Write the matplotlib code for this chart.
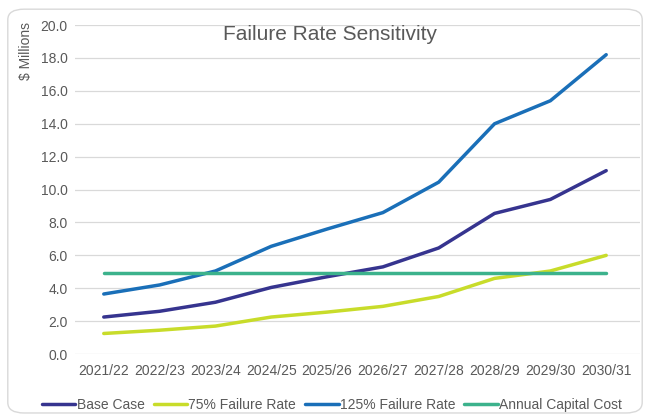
import matplotlib
matplotlib.use("Agg")
import matplotlib.pyplot as plt
from matplotlib.patches import FancyBboxPatch

years = ["2021/22", "2022/23", "2023/24", "2024/25", "2025/26", "2026/27",
         "2027/28", "2028/29", "2029/30", "2030/31"]
base_case = [2.25, 2.6, 3.15, 4.05, 4.7, 5.3, 6.45, 8.55, 9.4, 11.15]
rate_75 = [1.25, 1.45, 1.7, 2.25, 2.55, 2.9, 3.5, 4.6, 5.05, 6.0]
rate_125 = [3.65, 4.2, 5.05, 6.55, 7.6, 8.6, 10.45, 14.0, 15.4, 18.2]
capital = [4.9] * 10

plt.rcParams['font.family'] = ['Liberation Sans', 'DejaVu Sans']
fig = plt.figure(figsize=(6.5, 4.18), dpi=100)
fig.patches.append(FancyBboxPatch((0.012, 0.012), 0.976, 0.966,
                                  boxstyle="round,pad=0,rounding_size=0.025",
                                  transform=fig.transFigure, fc='white',
                                  ec='#d9d9d9', lw=1.0, zorder=-1))
ax = fig.add_axes([0.115, 0.153, 0.87, 0.787])
ax.set_facecolor('none')
x = range(len(years))
lw = 2.5
ax.plot(x, base_case, color='#36348f', lw=lw, label='Base Case', solid_capstyle='round')
ax.plot(x, rate_75, color='#c8dc2a', lw=lw, label='75% Failure Rate', solid_capstyle='round')
ax.plot(x, rate_125, color='#1a6fb8', lw=lw, label='125% Failure Rate', solid_capstyle='round')
ax.plot(x, capital, color='#3cb28c', lw=lw, label='Annual Capital Cost', solid_capstyle='round')

ax.set_ylim(0, 20)
ax.set_yticks(range(0, 21, 2))
ax.set_yticklabels([f"{v:.1f}" for v in range(0, 21, 2)])
ax.set_xlim(-0.52, 9.61)
ax.set_xticks(list(x))
ax.set_xticklabels(years)
ax.grid(axis='y', color='#d9d9d9', lw=0.9)
ax.set_axisbelow(True)
for s in ax.spines.values():
    s.set_visible(False)
ax.tick_params(axis='both', length=0, labelsize=10, labelcolor='#595959', pad=7)
ax.tick_params(axis='y', pad=5)
ax.set_ylabel('$ Millions', fontsize=10, color='#595959', loc='top')
ax.yaxis.set_label_coords(-0.073, 1.01)
ax.set_title('Failure Rate Sensitivity', fontsize=15, color='#595959', x=0.452, y=0.93)

ax.legend(loc='upper center', bbox_to_anchor=(0.455, -0.095), ncol=4, frameon=False,
          fontsize=10, labelcolor='#595959', handlelength=2.4, handletextpad=0.1,
          columnspacing=0.65)
fig.savefig('out.png', dpi=100)
